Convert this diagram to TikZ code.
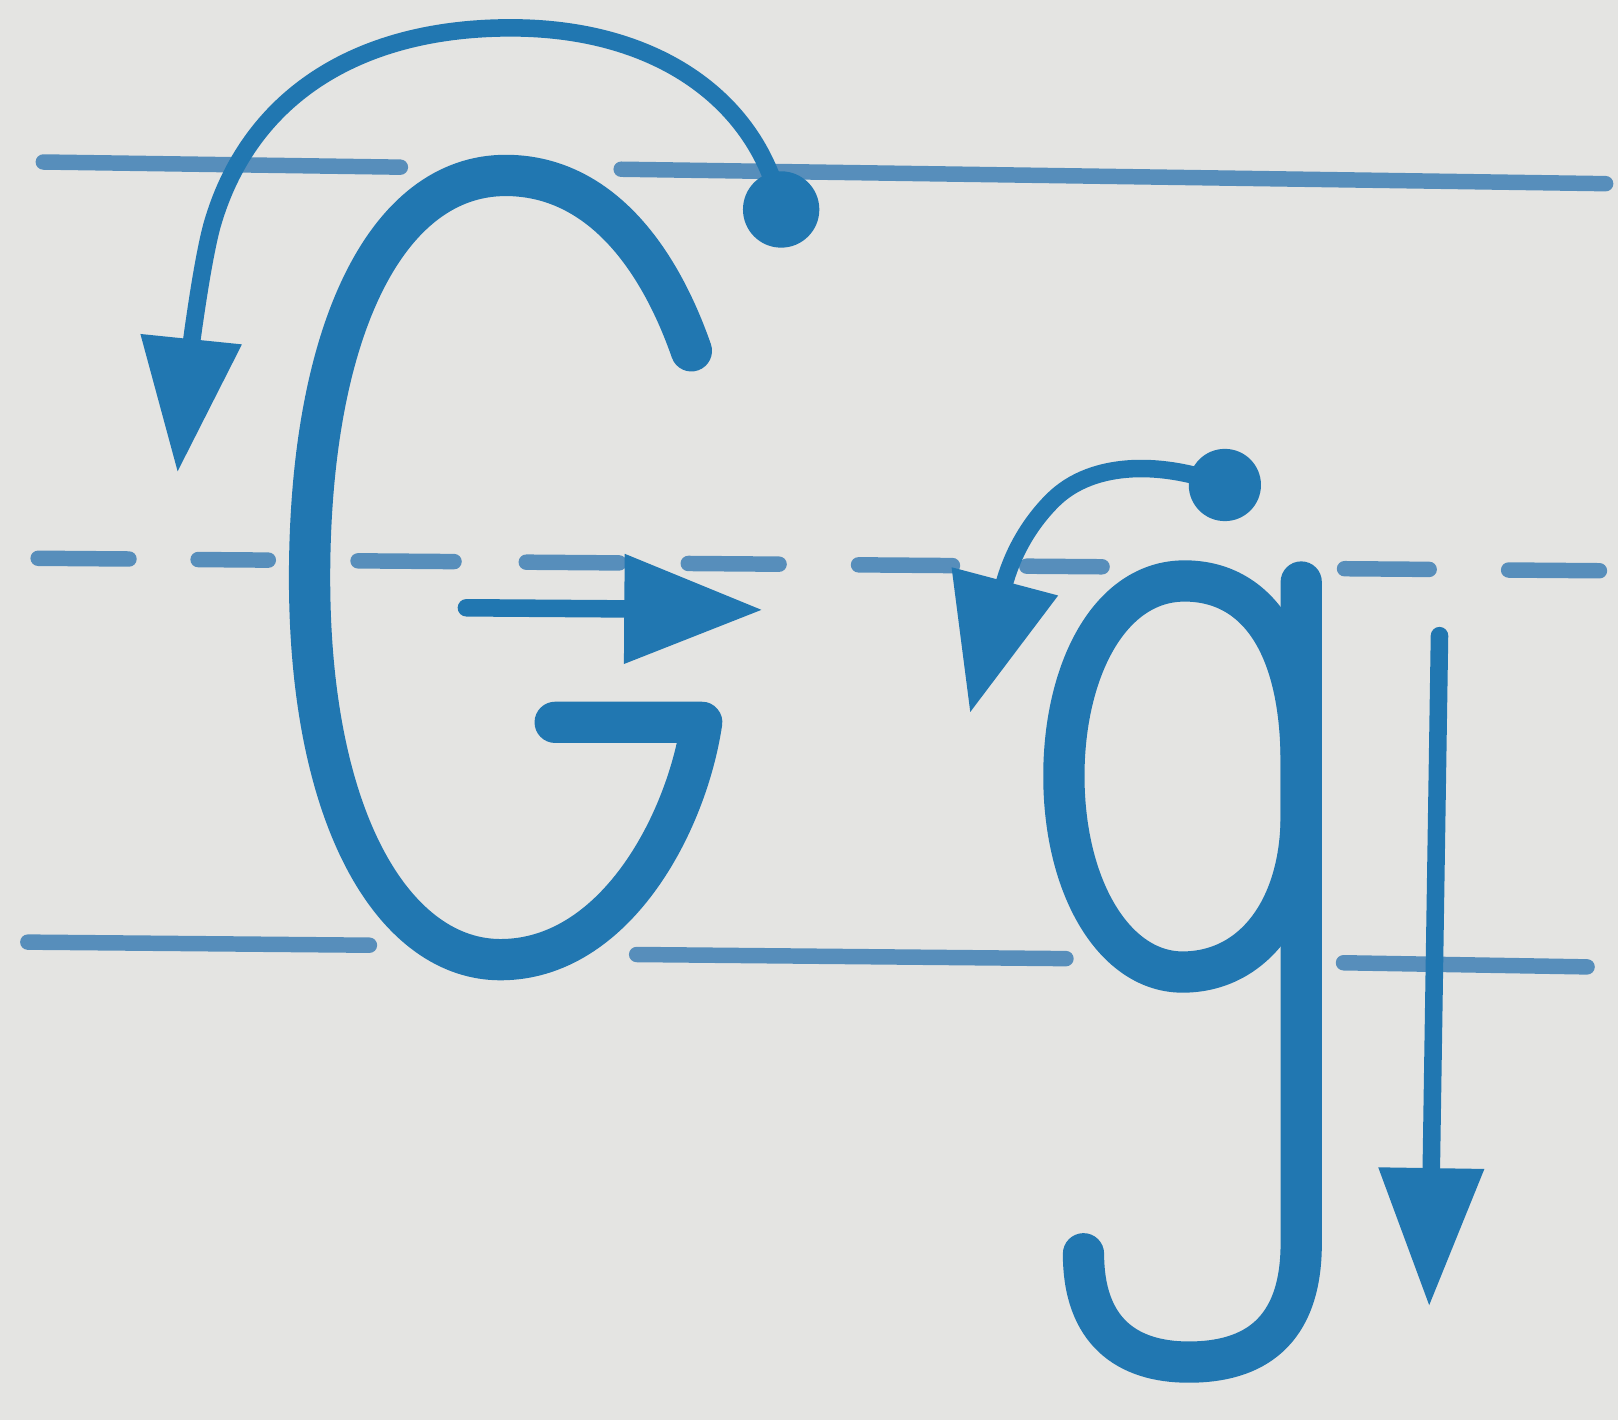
\documentclass[tikz,border=0pt]{standalone}
\usetikzlibrary{arrows.meta}
\definecolor{paper}{HTML}{E4E4E2}
\definecolor{ink}{HTML}{2177B1}
\definecolor{guide}{HTML}{578EBB}
\begin{document}
\begin{tikzpicture}[x=0.5pt,y=-0.5pt,
  guideline/.style={guide, line width=7.5pt, line cap=round},
  letter/.style={ink, line width=20pt, line cap=round, line join=round},
  pointer/.style={ink, line width=8.5pt, line cap=round},
  bigdot/.style={circle, fill=ink, inner sep=0pt, minimum size=#1}
]
\fill[paper] (0,0) rectangle (1568,1376);
\useasboundingbox (0,0) rectangle (1568,1376);

% guide lines
\draw[guideline] (42,157) -- (388,162);
\draw[guideline] (602,164) -- (1556,178);
\foreach \a/\b in {37/125,192/260,347/440,510/600,667/755,832/923,995/1068,1303/1385,1462/1550}{
  \draw[guideline] (\a,{541+(\a-35)*0.008}) -- (\b,{541+(\b-35)*0.008});
}
\draw[guideline] (27,913) -- (358,916);
\draw[guideline] (617,925) -- (1033,929);
\draw[guideline] (1302,933) -- (1538,937);

% letter G
\draw[letter] (670,340) .. controls (635,240) and (575,170) .. (490,170)
  .. controls (375,170) and (300,320) .. (300,560)
  .. controls (300,800) and (385,930) .. (485,930)
  .. controls (595,930) and (665,800) .. (680,700) -- (538,700);

% letter g
\draw[letter] (1261,740) .. controls (1261,620) and (1215,563) .. (1148,563)
  .. controls (1075,563) and (1031,650) .. (1031,752)
  .. controls (1031,860) and (1080,942) .. (1146,942)
  .. controls (1215,942) and (1261,880) .. (1261,790) -- cycle;
\draw[letter] (1261,564) -- (1261,1205)
  .. controls (1261,1292) and (1214,1320) .. (1152,1320)
  .. controls (1092,1320) and (1050,1290) .. (1050,1215);

% G stroke arrows
\node[bigdot=37pt] (Gdot) at (757,203) {};
\coordinate (Gtip) at (172,458);
\draw[pointer, -{Triangle[length=65pt,width=47pt]}] (Gdot.center)
  .. controls (735,100) and (640,27) .. (495,27)
  .. controls (345,27) and (240,95) .. (205,220)
  .. controls (192,270) and (180,380) .. (Gtip);
\coordinate (Gbar) at (452,589);
\coordinate (Gbartip) at (739,591);
\draw[pointer, -{Triangle[length=67pt,width=51pt]}] (Gbar) -- (Gbartip);

% g stroke arrows
\node[bigdot=35pt] (gdot) at (1187,470) {};
\coordinate (gtip) at (940,691);
\draw[pointer, -{Triangle[length=66pt,width=51pt]}] (gdot.center)
  .. controls (1130,448) and (1060,445) .. (1020,485)
  .. controls (995,510) and (980,540) .. (gtip);
\coordinate (gstem) at (1395,616);
\coordinate (gstemtip) at (1385,1266);
\draw[pointer, -{Triangle[length=67pt,width=49pt]}] (gstem) -- (gstemtip);
\end{tikzpicture}
\end{document}
